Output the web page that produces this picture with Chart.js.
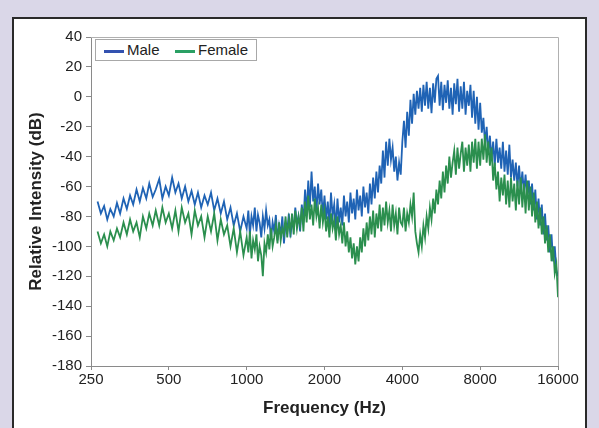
<!DOCTYPE html>
<html>
<head>
<meta charset="utf-8">
<script src="https://cdn.jsdelivr.net/npm/chart.js@4"></script>
<style>
  html, body { margin: 0; padding: 0; }
  body { width: 599px; height: 428px; background: #dad7e8; position: relative; overflow: hidden; font-family: 'Liberation Sans', Arial, sans-serif; }
  .panel { position: absolute; left: 12px; top: 17px; width: 571px; height: 430px; background: #fff; border: 2px solid #2a2a2a; }
  #chart { position: absolute; left: 0; top: 0; }
  .legend { position: absolute; left: 95px; top: 39px; width: 160px; height: 20px; border: 1px solid #a8a8a8; background: #fff; font-size: 15px; color: #222; }
  .legend span { position: absolute; top: 1px; }
  .legend i { position: absolute; top: 10px; width: 20px; height: 3px; }
</style>
</head>
<body>
<div class="panel"></div>
<canvas id="chart" width="599" height="428"></canvas>
<div class="legend">
  <i style="left:8px;background:#3352b0"></i><span style="left:31px">Male</span>
  <i style="left:79px;background:#2aa064"></i><span style="left:102px">Female</span>
</div>
<script>
// Frequency bins (Hz) - denser towards the top end, as in the spectrum
const freqs = [
    265, 273, 281, 289, 297, 306, 315, 324, 334, 344, 354, 364, 375, 386, 397, 409, 420, 433, 445, 459, 472, 486, 500,
    515, 530, 545, 561, 578, 595, 612, 630, 648, 667, 687, 707, 728, 749, 771, 794, 817, 841, 866, 891, 917, 944, 972,
    1000, 1015, 1029, 1044, 1059, 1075, 1091, 1106, 1122, 1139, 1155, 1172, 1189, 1207, 1224, 1242,
    1260, 1278, 1297, 1316, 1335, 1354, 1374, 1394, 1414, 1435, 1456, 1477, 1498, 1520, 1542, 1565,
    1587, 1610, 1634, 1658, 1682, 1706, 1731, 1756, 1782, 1808, 1834, 1861, 1888, 1915, 1943, 1971,
    2000, 2029, 2059, 2089, 2119, 2150, 2181, 2213, 2245, 2278, 2311, 2344, 2378, 2413, 2448, 2484,
    2520, 2557, 2594, 2631, 2670, 2709, 2748, 2788, 2828, 2870, 2911, 2954, 2997, 3040, 3084, 3129,
    3175, 3221, 3268, 3315, 3364, 3413, 3462, 3513, 3564, 3615, 3668, 3721, 3775, 3830, 3886, 3943,
    4000, 4058, 4117, 4177, 4238, 4300, 4362, 4425, 4490, 4555, 4621, 4689, 4757, 4826, 4896, 4967,
    5040, 5113, 5187, 5263, 5339, 5417, 5496, 5576, 5657, 5739, 5823, 5907, 5993, 6080, 6169, 6259,
    6350, 6442, 6536, 6631, 6727, 6825, 6924, 7025, 7127, 7231, 7336, 7443, 7551, 7661, 7772, 7885,
    8000, 8116, 8234, 8354, 8476, 8599, 8724, 8851, 8980, 9110, 9243, 9377, 9514, 9652, 9793, 9935,
    10079, 10226, 10375, 10526, 10679, 10834, 10992, 11152, 11314, 11479, 11646, 11815, 11987, 12162, 12338, 12518,
    12699, 12884, 13072, 13262, 13454, 13650, 13849, 14050, 14254, 14462, 14672, 14885, 15102, 15321, 15545, 15771,
    16000
];

// Relative intensity (dB), male voice
const maleDb = [
    -70, -78, -73, -82, -75, -80, -71, -78, -68, -75, -66, -72, -62, -70, -61, -68, -58, -67, -62, -55, -68, -60, -66,
    -54, -64, -58, -68, -60, -70, -63, -72, -64, -74, -66, -72, -64, -76, -68, -78, -70, -82, -74, -86, -78, -90, -80,
    -88, -76, -92, -80, -86, -74, -90, -79, -84, -94, -80, -88, -76, -86, -82, -95,
    -84, -90, -79, -96, -86, -92, -80, -98, -85, -90, -78, -94, -82, -88, -74, -86,
    -80, -90, -72, -84, -62, -78, -56, -74, -50, -70, -60, -78, -58, -72, -62, -80,
    -66, -82, -70, -86, -64, -80, -72, -88, -68, -84, -74, -86, -66, -80, -70, -84,
    -64, -78, -68, -82, -62, -76, -66, -80, -60, -74, -64, -78, -58, -72, -54, -68,
    -50, -64, -46, -58, -36, -54, -30, -46, -28, -42, -34, -50, -40, -56, -44, -52,
    -30, -16, -34, -10, -26, -2, -18, 2, -12, 4, -8, 6, -10, 8, -6, 10,
    -8, 6, -11, 9, -4, 12, 14, -6, 10, -9, 8, -4, 11, -8, 6, -12,
    9, -5, 12, -10, 7, -8, 10, -12, 4, -6, 8, -14, 4, -18, 0, -22,
    -4, -24, -14, -32, -20, -38, -26, -42, -30, -46, -28, -44, -34, -48, -30, -50,
    -36, -52, -32, -54, -42, -56, -44, -60, -46, -62, -50, -64, -52, -68, -56, -72,
    -58, -76, -62, -82, -68, -86, -72, -92, -78, -96, -86, -104, -92, -110, -100, -116,
    -120
];

// Relative intensity (dB), female voice
const femaleDb = [
    -90, -98, -92, -100, -90, -96, -88, -94, -84, -92, -82, -90, -84, -94, -80, -88, -78, -86, -76, -86, -74, -84, -78,
    -88, -76, -90, -74, -84, -78, -92, -76, -86, -80, -94, -80, -90, -78, -96, -82, -92, -86, -100, -88, -104, -90, -106,
    -94, -104, -90, -108, -96, -102, -92, -110, -100, -106, -120, -98, -104, -92, -102, -88,
    -100, -94, -86, -98, -84, -96, -88, -92, -80, -94, -82, -90, -78, -92, -76, -88,
    -80, -86, -74, -90, -70, -84, -66, -82, -72, -86, -68, -80, -74, -88, -72, -84,
    -76, -90, -80, -94, -78, -88, -82, -96, -80, -92, -86, -98, -84, -100, -90, -104,
    -94, -108, -98, -112, -100, -110, -94, -104, -88, -100, -84, -96, -80, -92, -76, -94,
    -78, -88, -72, -90, -74, -86, -70, -84, -76, -90, -72, -86, -78, -92, -74, -84,
    -86, -74, -90, -78, -84, -72, -80, -64, -90, -98, -104, -92, -100, -86, -94, -80,
    -88, -74, -82, -68, -78, -62, -72, -56, -68, -50, -64, -46, -58, -40, -54, -44,
    -36, -52, -34, -48, -38, -30, -50, -34, -46, -32, -50, -30, -44, -28, -48, -30,
    -46, -28, -42, -25, -44, -30, -46, -34, -56, -44, -62, -50, -70, -54, -66, -52,
    -72, -56, -74, -54, -70, -58, -76, -56, -72, -54, -74, -58, -78, -56, -76, -60,
    -80, -64, -84, -70, -88, -74, -92, -80, -98, -86, -104, -92, -110, -100, -118, -112,
    -134
];

const xTicks = [250, 500, 1000, 2000, 4000, 8000, 16000];
const xTickLabels = ['250', '500', '1000', '2000', '4000', '8000', '16000'];

const FONT = "'Liberation Sans', Arial, sans-serif";

// Light frame round the plot area (top and right edges)
const plotFrame = {
    id: 'plotFrame',
    beforeDatasetsDraw(chart) {
        const {ctx, chartArea: a} = chart;
        ctx.save();
        ctx.strokeStyle = '#b0b0b0';
        ctx.lineWidth = 1;
        ctx.beginPath();
        ctx.moveTo(a.left, a.top + 0.5);
        ctx.lineTo(a.right + 0.5, a.top + 0.5);
        ctx.lineTo(a.right + 0.5, a.bottom);
        ctx.stroke();
        ctx.restore();
    }
};

new Chart(document.getElementById('chart'), {
    type: 'line',
    data: {
        datasets: [
            {
                label: 'Male',
                data: freqs.map((f, i) => ({x: f, y: maleDb[i]})),
                borderColor: '#1f63b5',
                borderWidth: 1.8,
                pointRadius: 0,
                tension: 0,
                order: 1
            },
            {
                label: 'Female',
                data: freqs.map((f, i) => ({x: f, y: femaleDb[i]})),
                borderColor: '#2b8f4e',
                borderWidth: 1.8,
                pointRadius: 0,
                tension: 0,
                order: 0
            }
        ]
    },
    options: {
        responsive: false,
        animation: false,
        events: [],
        layout: { padding: { left: 0, top: 37, right: 41, bottom: 0 } },
        plugins: { legend: { display: false }, tooltip: { enabled: false } },
        scales: {
            x: {
                type: 'logarithmic',
                min: 250,
                max: 16000,
                afterBuildTicks: axis => { axis.ticks = xTicks.map(v => ({value: v})); },
                afterFit: axis => { axis.height = 62; },
                ticks: {
                    autoSkip: false,
                    maxRotation: 0,
                    padding: 1,
                    color: '#222',
                    font: { family: FONT, size: 15 },
                    callback: (v, i) => xTickLabels[i]
                },
                grid: { drawOnChartArea: false, tickLength: 4, color: '#8a8a8a' },
                border: { color: '#8a8a8a', width: 1 },
                title: {
                    display: true,
                    text: 'Frequency (Hz)',
                    color: '#222',
                    font: { family: FONT, size: 17, weight: 'bold' },
                    padding: { top: 0, bottom: 9 }
                }
            },
            y: {
                min: -180,
                max: 40,
                afterFit: axis => { axis.width = 91; },
                ticks: {
                    stepSize: 20,
                    padding: 4,
                    color: '#222',
                    font: { family: FONT, size: 15 }
                },
                grid: { drawOnChartArea: false, tickLength: 5, color: '#8a8a8a' },
                border: { color: '#8a8a8a', width: 1 },
                title: {
                    display: true,
                    text: 'Relative Intensity (dB)',
                    color: '#222',
                    font: { family: FONT, size: 17, weight: 'bold' },
                    padding: { top: 26, bottom: 0 }
                }
            }
        }
    },
    plugins: [plotFrame]
});
</script>
</body>
</html>
